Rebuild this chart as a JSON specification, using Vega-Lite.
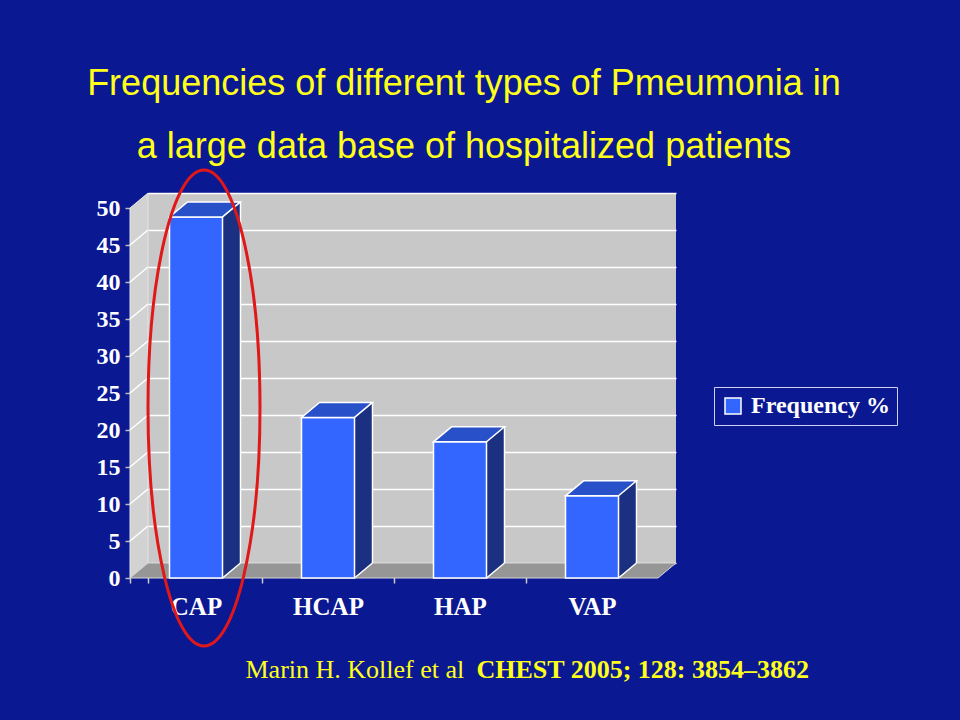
{
  "$schema": "https://vega.github.io/schema/vega-lite/v6.json",
  "width": 528,
  "height": 370,
  "autosize": {"type": "none"},
  "padding": {"left": 148, "top": 193, "right": 284, "bottom": 157},
  "background": "#0a1892",
  "view": {"fill": "#c8c8c8", "stroke": null},
  "title": {
    "text": ["Frequencies of different types of Pmeumonia in", "a large data base of hospitalized patients"],
    "font": "Liberation Sans",
    "fontSize": 36,
    "fontWeight": "normal",
    "color": "#ffff1a",
    "lineHeight": 63,
    "anchor": "middle",
    "dx": 52,
    "dy": 63,
    "offset": 33,
    "baseline": "alphabetic"
  },
  "datasets": {
    "bars": [
      {"type": "CAP", "value": 48.8, "series": "Frequency %"},
      {"type": "HCAP", "value": 21.7, "series": "Frequency %"},
      {"type": "HAP", "value": 18.4, "series": "Frequency %"},
      {"type": "VAP", "value": 11.1, "series": "Frequency %"}
    ],
    "grid": [
      {"tick": 5, "type": "CAP"}, {"tick": 10, "type": "CAP"}, {"tick": 15, "type": "CAP"},
      {"tick": 20, "type": "CAP"}, {"tick": 25, "type": "CAP"}, {"tick": 30, "type": "CAP"},
      {"tick": 35, "type": "CAP"}, {"tick": 40, "type": "CAP"}, {"tick": 45, "type": "CAP"}
    ]
  },
  "data": {"name": "bars"},
  "encoding": {
    "x": {
      "field": "type",
      "type": "nominal",
      "sort": null,
      "scale": {"type": "band", "domain": ["CAP", "HCAP", "HAP", "VAP"], "paddingInner": 0, "paddingOuter": 0},
      "axis": {
        "orient": "bottom",
        "offset": 14,
        "tickOffset": -18,
        "bandPosition": 0,
        "tickExtra": true,
        "domain": false,
        "ticks": true,
        "tickSize": 6,
        "tickColor": "#cccccc",
        "tickWidth": 1.5,
        "labelFont": "Liberation Serif",
        "labelFontSize": 25,
        "labelFontWeight": "bold",
        "labelColor": "#ffffff",
        "labelPadding": 11,
        "labelAngle": 0,
        "title": "CHEST 2005; 128: 3854–3862",
        "titleX": 328,
        "titleY": 100,
        "titleAlign": "left",
        "titleBaseline": "alphabetic",
        "titleFont": "Liberation Serif",
        "titleFontSize": 26,
        "titleFontWeight": "bold",
        "titleColor": "#ffff1a"
      }
    },
    "y": {
      "field": "value",
      "type": "quantitative",
      "scale": {"domain": [0, 50], "nice": false, "zero": true},
      "axis": null
    }
  },
  "layer": [
    {
      "transform": [{"filter": "datum.type === 'CAP'"}],
      "mark": {"type": "point", "shape": "M-66,0 L-66,370 L-84,385 L-84,15 Z", "size": 4, "filled": true, "fill": "#d2d2d2", "stroke": "#e4e4e4", "strokeWidth": 1, "opacity": 1},
      "encoding": {"y": {"datum": 50, "type": "quantitative", "axis": null}}
    },
    {
      "transform": [{"filter": "datum.type === 'CAP'"}],
      "mark": {"type": "point", "shape": "M-66,0 L462,0 L444,15 L-84,15 Z", "size": 4, "filled": true, "fill": "#969696", "stroke": "#d6d6d6", "strokeWidth": 1, "opacity": 1},
      "encoding": {"y": {"datum": 0, "type": "quantitative", "axis": null}}
    },
    {
      "data": {"name": "grid"},
      "mark": {"type": "point", "shape": "M-84,15 L-66,0", "size": 4, "filled": false, "stroke": "#ffffff", "strokeWidth": 1.5, "opacity": 1},
      "encoding": {
        "y": {
          "field": "tick",
          "type": "quantitative",
          "axis": {
            "orient": "left",
            "grid": true,
            "gridColor": "#ffffff",
            "gridWidth": 1.5,
            "gridOpacity": 1,
            "values": [0, 5, 10, 15, 20, 25, 30, 35, 40, 45, 50],
            "ticks": false,
            "labels": false,
            "domain": false,
            "title": "Marin H. Kollef et al",
            "titleAngle": 0,
            "titleX": 97,
            "titleY": 484,
            "titleAlign": "left",
            "titleBaseline": "alphabetic",
            "titleFont": "Liberation Serif",
            "titleFontSize": 26,
            "titleFontWeight": "normal",
            "titleColor": "#ffff1a"
          }
        }
      }
    },
    {
      "mark": {"type": "bar", "width": 18, "xOffset": 17.5, "fill": "#1b3080", "stroke": null},
      "encoding": {"y": {"field": "value", "type": "quantitative", "axis": null}}
    },
    {
      "mark": {"type": "point", "shape": "M8.5,0 L8.5,15 L26.5,0 Z", "size": 4, "filled": true, "fill": "#1b3080", "strokeWidth": 0, "opacity": 1},
      "encoding": {"y": {"datum": 0, "type": "quantitative", "axis": null}}
    },
    {
      "mark": {"type": "bar", "width": 53, "xOffset": -18, "yOffset": 15, "y2Offset": 15, "stroke": "#ffffff", "strokeWidth": 1.5},
      "encoding": {
        "y": {
          "field": "value",
          "type": "quantitative",
          "axis": {
            "orient": "left",
            "offset": 18,
            "tickOffset": 15,
            "values": [0, 5, 10, 15, 20, 25, 30, 35, 40, 45, 50],
            "grid": false,
            "domain": false,
            "ticks": true,
            "tickSize": 5,
            "tickColor": "#bbbbbb",
            "tickWidth": 1.5,
            "labelFont": "Liberation Serif",
            "labelFontSize": 24,
            "labelFontWeight": "bold",
            "labelColor": "#ffffff",
            "labelPadding": 5,
            "title": null
          }
        },
        "color": {
          "field": "series",
          "type": "nominal",
          "scale": {"range": ["#3366ff"]},
          "legend": {
            "title": null,
            "orient": "none",
            "legendX": 566,
            "legendY": 194,
            "strokeColor": "#d0d0f0",
            "padding": 7,
            "labelFont": "Liberation Serif",
            "labelFontSize": 24,
            "labelFontWeight": "bold",
            "labelColor": "#ffffff",
            "labelOffset": 6,
            "symbolType": "square",
            "symbolSize": 256,
            "symbolStrokeColor": "#ffffff",
            "symbolStrokeWidth": 1.5,
            "symbolOpacity": 1
          }
        }
      }
    },
    {
      "mark": {"type": "point", "shape": "M-44.5,15 L8.5,15 L26.5,0 L-26.5,0 Z", "size": 4, "filled": true, "fill": "#2850c8", "stroke": "#ffffff", "strokeWidth": 1.5, "opacity": 1},
      "encoding": {"y": {"field": "value", "type": "quantitative", "axis": null}}
    },
    {
      "mark": {"type": "rule", "xOffset": 26.5, "stroke": "#ffffff", "strokeWidth": 1.5},
      "encoding": {
        "y": {"field": "value", "type": "quantitative", "axis": null},
        "y2": {"datum": 0}
      }
    },
    {
      "mark": {"type": "point", "shape": "M8.5,15 L26.5,0", "size": 4, "filled": false, "stroke": "#ffffff", "strokeWidth": 1.5, "opacity": 1},
      "encoding": {"y": {"datum": 0, "type": "quantitative", "axis": null}}
    },
    {
      "transform": [{"filter": "datum.type === 'CAP'"}],
      "mark": {"type": "point", "shape": "M-66,30 A56,238 0 1,0 46,30 A56,238 0 1,0 -66,30 Z", "size": 4, "filled": false, "stroke": "#e01818", "strokeWidth": 3, "opacity": 1},
      "encoding": {"y": {"datum": 25, "type": "quantitative", "axis": null}}
    }
  ],
  "resolve": {"axis": {"y": "independent"}}
}
